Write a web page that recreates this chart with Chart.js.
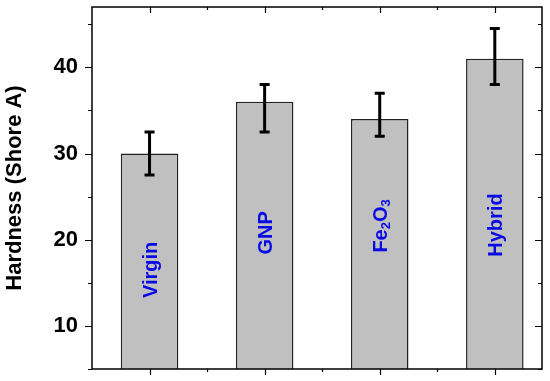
<!DOCTYPE html>
<html>
<head>
<meta charset="utf-8">
<script src="https://cdn.jsdelivr.net/npm/chart.js@4/dist/chart.umd.min.js"></script>
<style>
body { margin: 0; background: #fff; }
</style>
</head>
<body>
<canvas id="hardChart" width="550" height="381"></canvas>
<script>
const samples = ["Virgin", "GNP", "Fe2O3", "Hybrid"];
const hardness = [30, 36, 34, 41];
const errUp = [2.5, 2, 3, 3.5];
const errDown = [2.5, 3.5, 2, 3];
// where the rotated sample names sit, in hardness units
const labelAt = [16.5, 20.8, 21.6, 21.7];

const FONT = "'Liberation Sans', Arial, sans-serif";

// draw text with digits as subscripts (Fe2O3)
function drawLabel(ctx, text, cx, cy) {
    const parts = text.split(/(\d+)/).filter(s => s.length);
    const big = "bold 20px " + FONT, small = "bold 13px " + FONT;
    let w = 0;
    parts.forEach(p => {
        ctx.font = /\d/.test(p) ? small : big;
        w += ctx.measureText(p).width;
    });
    ctx.save();
    ctx.translate(cx, cy);
    ctx.rotate(-Math.PI / 2);
    ctx.fillStyle = "#0a0ae6";
    ctx.textAlign = "left";
    ctx.textBaseline = "alphabetic";
    let pos = -w / 2;
    parts.forEach(p => {
        const sub = /\d/.test(p);
        ctx.font = sub ? small : big;
        ctx.fillText(p, pos, sub ? 10 : 7);
        pos += ctx.measureText(p).width;
    });
    ctx.restore();
}

const frame = {
    id: "frame",
    afterDatasetsDraw(chart) {
        const ctx = chart.ctx;
        const a = chart.chartArea;
        const x = chart.scales.x, y = chart.scales.y;

        // error bars
        ctx.save();
        ctx.strokeStyle = "#000";
        ctx.lineWidth = 3;
        hardness.forEach((v, i) => {
            const px = x.getPixelForValue(i + 1);
            const top = y.getPixelForValue(v + errUp[i]);
            const bot = y.getPixelForValue(v - errDown[i]);
            ctx.beginPath();
            ctx.moveTo(px, top); ctx.lineTo(px, bot);
            ctx.moveTo(px - 5, top); ctx.lineTo(px + 5, top);
            ctx.moveTo(px - 5, bot); ctx.lineTo(px + 5, bot);
            ctx.stroke();
        });
        ctx.restore();

        samples.forEach((s, i) => {
            drawLabel(ctx, s, x.getPixelForValue(i + 1), y.getPixelForValue(labelAt[i]));
        });

        // box and tick marks
        ctx.save();
        ctx.strokeStyle = "#000";
        ctx.lineWidth = 1.5;
        ctx.strokeRect(a.left, a.top, a.right - a.left, a.bottom - a.top);
        ctx.lineWidth = 1.2;
        ctx.beginPath();
        for (let v = 5; v <= 45; v += 5) {
            const py = Math.round(y.getPixelForValue(v)) + 0.5;
            const len = v % 10 === 0 ? 7 : 4;
            ctx.moveTo(a.left - len, py); ctx.lineTo(a.left, py);
            ctx.moveTo(a.right, py); ctx.lineTo(a.right - len, py);
        }
        for (let c = 1; c <= 4; c += 0.5) {
            const px = Math.round(x.getPixelForValue(c)) + 0.5;
            const len = Number.isInteger(c) ? 6 : 3;
            ctx.moveTo(px, a.bottom); ctx.lineTo(px, a.bottom + len);
            ctx.moveTo(px, a.top); ctx.lineTo(px, a.top + len);
        }
        ctx.stroke();
        ctx.restore();
    }
};

Chart.defaults.color = "#000";
Chart.defaults.font.family = FONT;

new Chart(document.getElementById("hardChart"), {
    type: "bar",
    data: {
        datasets: [{
            data: hardness.map((v, i) => ({ x: i + 1, y: v })),
            backgroundColor: "#c0c0c0",
            borderColor: "#222",
            borderWidth: 1.5,
            categoryPercentage: 0.5,
            barPercentage: 1
        }]
    },
    options: {
        responsive: false,
        animation: false,
        layout: { padding: { top: 7, right: 8, bottom: 12, left: 0 } },
        plugins: { legend: { display: false }, tooltip: { enabled: false } },
        scales: {
            x: {
                type: "linear",
                display: false,
                offset: false,
                min: 0.5,
                max: 4.41,
                afterBuildTicks(scale) {
                    scale.ticks = samples.map((s, i) => ({ value: i + 1 }));
                }
            },
            y: {
                min: 5,
                max: 47,
                afterFit(scale) {
                    scale.width = 92;
                    scale.paddingTop = 0;
                    scale.paddingBottom = 0;
                },
                grid: { display: false, drawTicks: false },
                border: { display: false },
                ticks: {
                    stepSize: 10,
                    padding: 14,
                    font: { size: 22, weight: "bold" },
                    callback: v => (v % 10 === 0 ? v : "")
                },
                title: {
                    display: true,
                    text: "Hardness (Shore A)",
                    font: { size: 22, weight: "bold" },
                    padding: { top: 2, bottom: 0 }
                }
            }
        }
    },
    plugins: [frame]
});
</script>
</body>
</html>
